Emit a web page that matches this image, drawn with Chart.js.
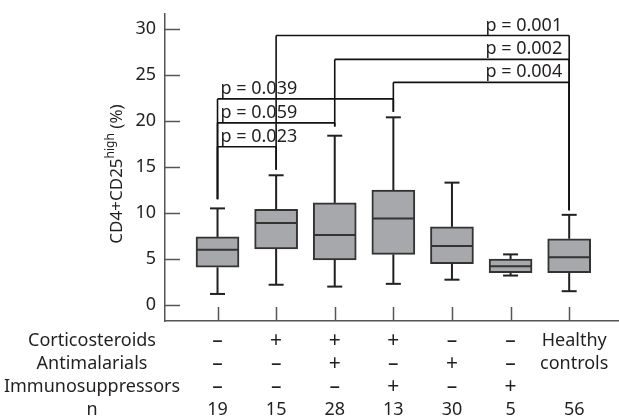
<!DOCTYPE html>
<html>
<head>
<meta charset="utf-8">
<script src="https://cdn.jsdelivr.net/npm/chart.js@4.4.1/dist/chart.umd.min.js"></script>
<style>
  html, body { margin: 0; padding: 0; background: #fff; }
  #wrap { width: 619px; height: 418px; }
</style>
</head>
<body>
<div id="wrap"><canvas id="box-chart"></canvas></div>
<script>
// box plot values (% CD4+CD25high)
const whiskerLow  = [1.2, 2.2, 2.0, 2.3, 2.75, 3.2, 1.5];
const quartile1   = [4.1, 6.1, 4.9, 5.5, 4.5, 3.5, 3.5];
const medians     = [6.0, 8.9, 7.6, 9.4, 6.4, 4.2, 5.2];
const quartile3   = [7.4, 10.4, 11.1, 12.5, 8.5, 5.0, 7.2];
const whiskerHigh = [10.5, 14.1, 18.4, 20.4, 13.3, 5.5, 9.8];

const yTicks = [0, 5, 10, 15, 20, 25, 30];

// table under the plot
const rowLabels = ['Corticosteroids', 'Antimalarials', 'Immunosuppressors', 'n'];
const corticosteroids   = ['–', '+', '+', '+', '–', '–', 'Healthy'];
const antimalarials     = ['–', '–', '+', '–', '+', '–', 'controls'];
const immunosuppressors = ['–', '–', '–', '+', '–', '+', ''];
const nValues           = [19, 15, 28, 13, 30, 5, 56];

// significance brackets
const pLabels = ['p = 0.001', 'p = 0.002', 'p = 0.004', 'p = 0.039', 'p = 0.059', 'p = 0.023'];
const pFrom   = [1, 2, 3, 0, 0, 0];
const pTo     = [6, 6, 6, 3, 2, 1];
const pLevel  = [29.3, 26.7, 24.2, 22.4, 19.8, 17.2];
const dropTo  = [11.5, 14.7, 19.4, 21.0, null, null, 10.3];

const FONT = '"Noto Sans", sans-serif';
const TXT = '#231f20';

function line(ctx, x1, y1, x2, y2) {
  ctx.beginPath();
  ctx.moveTo(x1, y1);
  ctx.lineTo(x2, y2);
  ctx.stroke();
}

const extras = {
  id: 'extras',
  afterDatasetsDraw(chart) {
    const ctx = chart.ctx;
    const xs = chart.scales.x, ys = chart.scales.y;
    const area = chart.chartArea;
    ctx.save();
    ctx.lineCap = 'butt';

    // tick marks pointing inwards
    ctx.strokeStyle = '#555';
    ctx.lineWidth = 1.5;
    yTicks.forEach(function (v) {
      const py = Math.round(ys.getPixelForValue(v)) + 0.5;
      line(ctx, area.left, py, area.left + 15, py);
    });
    medians.forEach(function (m, i) {
      const px = Math.round(xs.getPixelForValue(i)) + 0.5;
      line(ctx, px, area.bottom, px, area.bottom - 14);
    });

    // whiskers + medians
    ctx.strokeStyle = '#231f20';
    ctx.lineWidth = 2;
    medians.forEach(function (m, i) {
      const px = xs.getPixelForValue(i);
      line(ctx, px, ys.getPixelForValue(quartile3[i]), px, ys.getPixelForValue(whiskerHigh[i]));
      line(ctx, px, ys.getPixelForValue(quartile1[i]), px, ys.getPixelForValue(whiskerLow[i]));
      line(ctx, px - 7.5, ys.getPixelForValue(whiskerHigh[i]), px + 7.5, ys.getPixelForValue(whiskerHigh[i]));
      line(ctx, px - 7.5, ys.getPixelForValue(whiskerLow[i]), px + 7.5, ys.getPixelForValue(whiskerLow[i]));
      ctx.strokeStyle = '#333';
      line(ctx, px - 21, ys.getPixelForValue(m), px + 21, ys.getPixelForValue(m));
      ctx.strokeStyle = '#231f20';
    });

    // brackets
    ctx.lineWidth = 1.6;
    ctx.strokeStyle = '#111';
    ctx.fillStyle = TXT;
    ctx.font = '18px ' + FONT;
    ctx.textBaseline = 'bottom';
    pLabels.forEach(function (lab, k) {
      const x1 = xs.getPixelForValue(pFrom[k]);
      const x2 = xs.getPixelForValue(pTo[k]);
      const py = ys.getPixelForValue(pLevel[k]);
      line(ctx, x1, py, x2, py);
      [pFrom[k], pTo[k]].forEach(function (c) {
        if (dropTo[c] !== null && dropTo[c] < pLevel[k]) {
          const px = xs.getPixelForValue(c);
          line(ctx, px, py, px, ys.getPixelForValue(dropTo[c]));
        }
      });
      if (pTo[k] === 6) {
        ctx.textAlign = 'right';
        ctx.fillText(lab, x2 - 7, py - 1);
      } else {
        ctx.textAlign = 'left';
        ctx.fillText(lab, x1 + 3, py - 1);
      }
    });

    // y axis title with superscript
    ctx.save();
    ctx.translate(122, 174);
    ctx.rotate(-Math.PI / 2);
    ctx.textBaseline = 'alphabetic';
    ctx.textAlign = 'left';
    const a = 'CD4+CD25', b = 'high', c = ' (%)';
    ctx.font = '17px ' + FONT;
    const wa = ctx.measureText(a).width, wc = ctx.measureText(c).width;
    ctx.font = '12px ' + FONT;
    const wb = ctx.measureText(b).width;
    let x0 = -(wa + wb + wc) / 2;
    ctx.font = '17px ' + FONT;
    ctx.fillText(a, x0, 0);
    ctx.font = '12px ' + FONT;
    ctx.fillText(b, x0 + wa, -8);
    ctx.font = '17px ' + FONT;
    ctx.fillText(c, x0 + wa + wb, 0);
    ctx.restore();

    // table
    ctx.textAlign = 'center';
    ctx.textBaseline = 'alphabetic';
    const rows = [corticosteroids, antimalarials, immunosuppressors, nValues];
    const baselines = [346, 369, 392, 415];
    rows.forEach(function (row, r) {
      ctx.font = '18px ' + FONT;
      ctx.fillText(rowLabels[r], 92, baselines[r]);
      row.forEach(function (v, i) {
        const s = String(v);
        const sign = (s === '+' || s === '–');
        ctx.font = (sign ? '21px ' : '18px ') + FONT;
        ctx.fillText(s, xs.getPixelForValue(i) + (i === 6 ? 5 : 0), baselines[r] + (sign ? 1 : 0));
      });
    });
    ctx.restore();
  }
};

new Chart(document.getElementById('box-chart'), {
  type: 'bar',
  data: {
    datasets: [{
      data: medians.map(function (m, i) { return { x: i, y: [quartile1[i], quartile3[i]] }; }),
      backgroundColor: '#a7a8ab',
      borderColor: '#333',
      borderWidth: 2,
      borderSkipped: false,
      barThickness: 43
    }]
  },
  options: {
    responsive: true,
    maintainAspectRatio: false,
    animation: false,
    events: [],
    layout: { padding: { left: 0, right: 0, top: 14, bottom: 97 } },
    plugins: { legend: { display: false }, tooltip: { enabled: false } },
    scales: {
      x: {
        type: 'linear',
        offset: false,
        min: -0.896,
        max: 6.85,
        grid: { display: false, drawTicks: false },
        border: { color: '#555', width: 1.5 },
        ticks: { display: false },
        afterFit: function (s) { s.height = 0; s.paddingLeft = 0; s.paddingRight = 0; }
      },
      y: {
        min: -1.74,
        max: 31.63,
        grid: { display: false, drawTicks: false },
        border: { color: '#555', width: 1.5 },
        ticks: { color: TXT, font: { family: FONT, size: 18 }, padding: 9 },
        afterBuildTicks: function (s) { s.ticks = yTicks.map(function (v) { return { value: v }; }); },
        afterFit: function (s) { s.width = 165; s.paddingTop = 0; s.paddingBottom = 0; }
      }
    }
  },
  plugins: [extras]
});
</script>
</body>
</html>
